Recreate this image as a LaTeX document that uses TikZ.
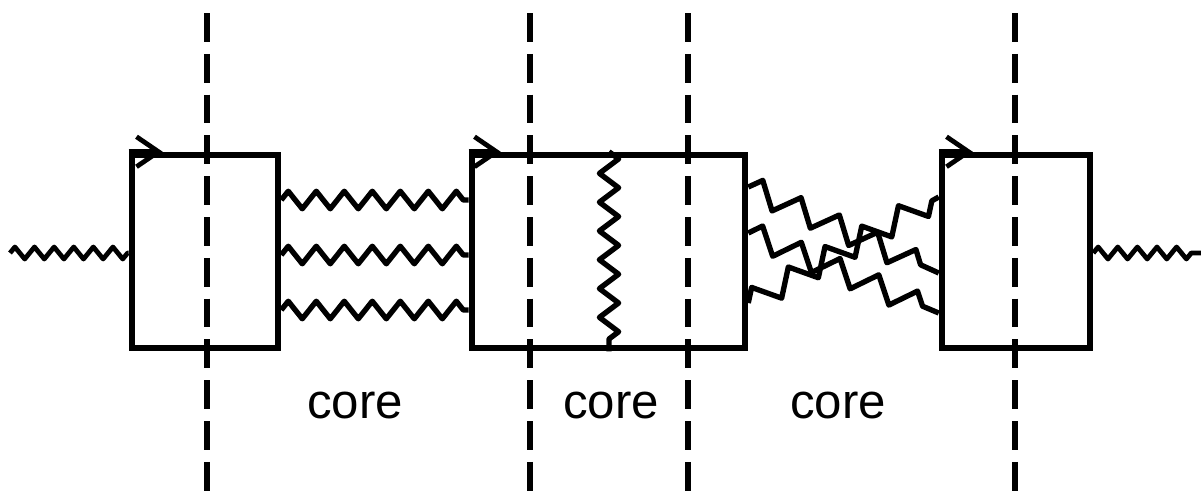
\documentclass[tikz,border=0pt]{standalone}
\usepackage{fontspec}
\setsansfont{Liberation Sans}
\usetikzlibrary{positioning,arrows.meta,calc,decorations.pathmorphing}

\begin{document}
\begin{tikzpicture}[
    x=0.025cm, y=-0.025cm,
    box/.style={draw, line width=4.6pt, minimum height=4.825cm, inner sep=0pt},
    cut/.style={line width=3.6pt, dash pattern=on 0.72cm off 0.3cm},
    wig/.style={line width=3.8pt, line join=round, decorate,
                decoration={zigzag, segment length=0.7cm, amplitude=0.22cm}},
    tail/.style={line width=3.4pt, line join=round, decorate,
                 decoration={zigzag, segment length=0.49cm, amplitude=0.15cm}},
    slant/.style={line width=3.8pt, line join=round, decorate,
                  decoration={zigzag, segment length=1.05cm, amplitude=0.3cm}},
    flow/.style={line width=4.6pt, -{Straight Barb[length=0.55cm, width=0.75cm, line width=3.4pt]}},
    lbl/.style={font=\sffamily\fontsize{35}{40}\selectfont},
  ]
  \useasboundingbox (0,0) rectangle (1201,495);

  % --- boxes ---
  \node[box, minimum width=3.65cm] (b1) at (205,251.5) {};
  \node[box, minimum width=6.825cm] (b2) at (608.5,251.5) {};
  \node[box, minimum width=3.7cm] (b3) at (1016,251.5) {};
  \draw[flow] (b1.north west) -- ++(34,0);
  \draw[flow] (b2.north west) -- ++(32,0);
  \draw[flow] (b3.north west) -- ++(34,0);

  % --- external legs ---
  \coordinate (inL) at (10,253);
  \coordinate (outR) at (1201,253);
  \draw[tail] (inL) -- (b1.west |- inL);
  \draw[tail] (b3.east |- outR) -- (outR);

  % --- ladder between b1 and b2 ---
  \foreach \y in {200,255,310}
    \draw[wig] (b1.east |- 0,\y) -- (b2.west |- 0,\y);

  % --- rung inside b2 ---
  \draw[wig, decoration={segment length=0.72cm, amplitude=0.24cm}]
    (b2.north -| 609,0) -- (b2.south -| 609,0);

  % --- crossed rungs between b2 and b3 ---
  \draw[slant] (b2.east |- 0,187) -- (b3.west |- 0,273);
  \draw[slant] (b2.east |- 0,233) -- (b3.west |- 0,313);
  \draw[slant] (b2.east |- 0,303) -- (b3.west |- 0,197);

  % --- cuts ---
  \foreach \x in {207,530,688,1015}
    \draw[cut] (\x,13) -- (\x,495);

  \node[lbl] (c1) at (355,405) {core};
  \node[lbl] (c2) at (611,405) {core};
  \node[lbl] (c3) at (838,405) {core};
\end{tikzpicture}
\end{document}
